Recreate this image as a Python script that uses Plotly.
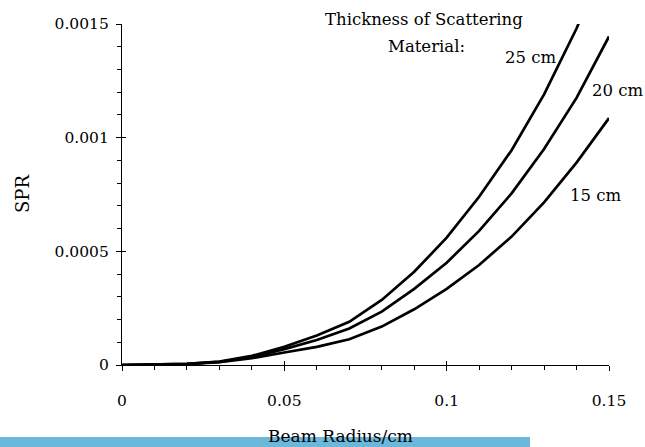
import plotly.graph_objects as go

# ---- data ----
beam_radius_cm = [0, 0.01, 0.02, 0.03, 0.04, 0.05, 0.06, 0.07, 0.08, 0.09,
                  0.10, 0.11, 0.12, 0.13, 0.14, 0.15]
spr_15cm = [0, 1e-6, 4e-6, 1.2e-5, 3.0e-5, 5.5e-5, 8.0e-5, 1.13e-4, 1.69e-4, 2.45e-4,
            3.35e-4, 4.40e-4, 5.65e-4, 7.15e-4, 8.90e-4, 1.086e-3]
spr_20cm = [0, 1e-6, 5e-6, 1.4e-5, 3.5e-5, 7.0e-5, 1.10e-4, 1.61e-4, 2.35e-4, 3.35e-4,
            4.50e-4, 5.90e-4, 7.55e-4, 9.50e-4, 1.175e-3, 1.445e-3]
spr_25cm = [0, 1e-6, 5e-6, 1.5e-5, 4.0e-5, 8.0e-5, 1.30e-4, 1.90e-4, 2.86e-4, 4.10e-4,
            5.60e-4, 7.40e-4, 9.45e-4, 1.19e-3, 1.48e-3, 1.82e-3]

x_tick_vals = [0, 0.05, 0.1, 0.15]
x_tick_text = ["0", "0.05", "0.1", "0.15"]
y_tick_vals = [0, 0.0005, 0.001, 0.0015]
y_tick_text = ["0", "0.0005", "0.001", "0.0015"]

series = [("15 cm", spr_15cm), ("20 cm", spr_20cm), ("25 cm", spr_25cm)]

# ---- layout geometry (pixels) ----
W, H = 645, 447
L, R, T, B = 122, 609, 24, 365          # plot box edges in pixels
FONT = "DejaVu Serif"


def px_to_paper(px, py):
    return (px - L) / (R - L), (B - py) / (B - T)


fig = go.Figure()
for name, vals in series:
    fig.add_trace(go.Scatter(x=beam_radius_cm, y=vals, mode="lines", name=name,
                             line=dict(color="black", width=2.7),
                             showlegend=False))

# dummy trace for overlay axes (used for crossing major ticks)
fig.add_trace(go.Scatter(x=[None], y=[None], xaxis="x2", yaxis="y2",
                         showlegend=False, hoverinfo="skip"))

axis_common = dict(showgrid=False, zeroline=False, showline=True,
                   linecolor="black", linewidth=1.2,
                   tickcolor="black", tickwidth=1, ticks="outside", ticklen=5,
                   tickfont=dict(family=FONT, size=15.5, color="black"))

fig.update_layout(
    width=W, height=H,
    margin=dict(l=L, r=W - R, t=T, b=H - B, pad=0),
    paper_bgcolor="white", plot_bgcolor="white",
    font=dict(family=FONT, color="black"),
    xaxis=dict(range=[0, 0.15], tickmode="array", tickvals=x_tick_vals,
               ticktext=x_tick_text, ticklabelstandoff=16,
               minor=dict(dtick=0.01, tick0=0, ticks="outside", ticklen=4,
                          tickcolor="black", tickwidth=1),
               **axis_common),
    yaxis=dict(range=[0, 0.0015], tickmode="array", tickvals=y_tick_vals,
               ticktext=y_tick_text, ticklabelstandoff=4,
               minor=dict(dtick=0.0001, tick0=0, ticks="outside", ticklen=4,
                          tickcolor="black", tickwidth=1),
               **axis_common),
    xaxis2=dict(range=[0, 0.15], overlaying="x", side="bottom", anchor="y2",
                tickmode="array", tickvals=x_tick_vals, ticks="inside", ticklen=4,
                tickcolor="black", tickwidth=1, showticklabels=False,
                showline=False, showgrid=False, zeroline=False),
    yaxis2=dict(range=[0, 0.0015], overlaying="y", side="left", anchor="x2",
                tickmode="array", tickvals=y_tick_vals, ticks="inside", ticklen=4,
                tickcolor="black", tickwidth=1, showticklabels=False,
                showline=False, showgrid=False, zeroline=False),
)

# blue strip at the bottom
bx0, by0 = px_to_paper(0, 437)
bx1, by1 = px_to_paper(530, 447)
fig.add_shape(type="rect", xref="paper", yref="paper", x0=bx0, x1=bx1, y0=by1, y1=by0,
              fillcolor="#6cb8da", line=dict(width=0), layer="below")


def add_text(text, px, py, size=16.5, angle=0):
    xp, yp = px_to_paper(px, py)
    fig.add_annotation(text=text, x=xp, y=yp, xref="paper", yref="paper",
                       showarrow=False, xanchor="center", yanchor="middle",
                       textangle=angle, font=dict(family=FONT, size=size, color="black"))


add_text("Beam Radius/cm", 340, 436, size=17)
add_text("SPR", 22, 194, size=18, angle=-90)
add_text("Thickness of Scattering", 424, 19)
add_text("Material:", 426, 46)
add_text("25 cm", 530, 57)
add_text("20 cm", 617, 90)
add_text("15 cm", 595, 195)

fig.write_html("out.html", config={"displayModeBar": False},
               post_script="document.body.style.margin='0';")
